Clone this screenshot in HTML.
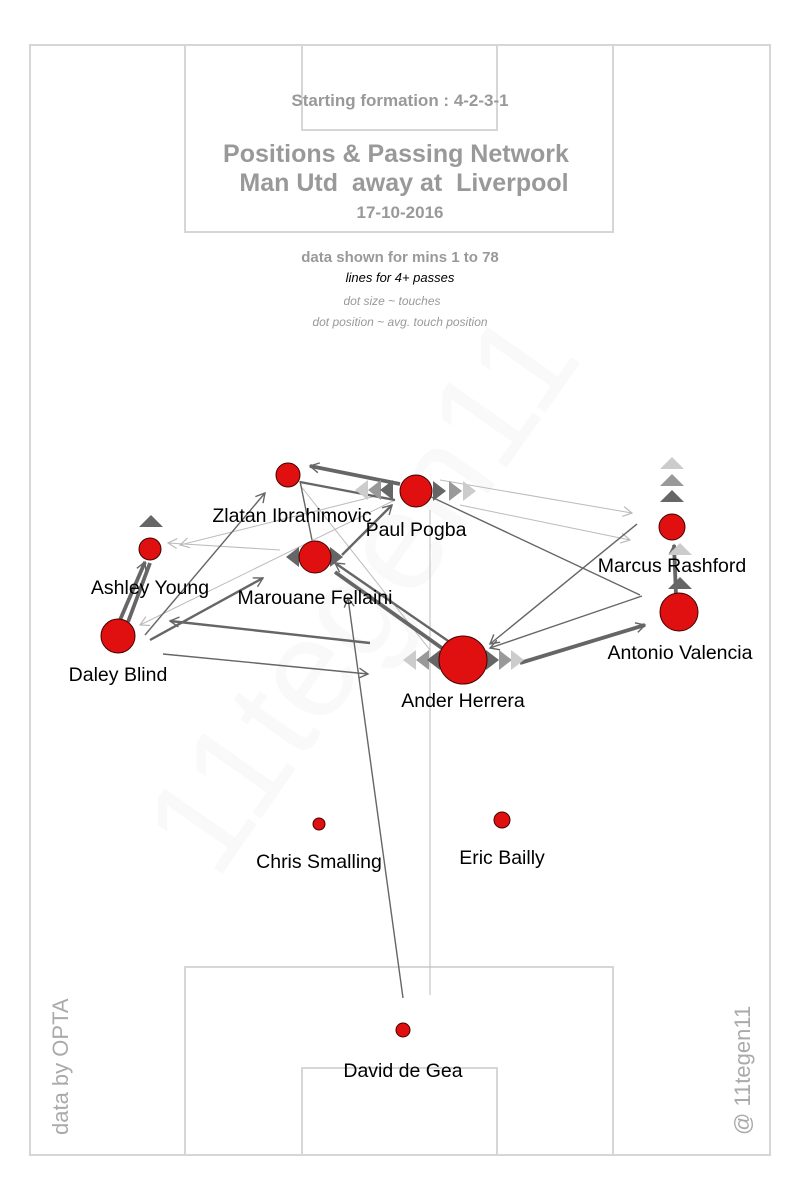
<!DOCTYPE html>
<html><head><meta charset="utf-8"><style>
html,body{margin:0;padding:0;background:#fff;}
svg{display:block;font-family:"Liberation Sans",sans-serif;}
</style></head><body>
<svg width="800" height="1200" viewBox="0 0 800 1200">
<defs>
<marker id="a" markerWidth="12" markerHeight="12" refX="10" refY="6" orient="auto" markerUnits="userSpaceOnUse"><path d="M1,1 L10,6 L1,11" fill="none" stroke="#666" stroke-width="1.4"/></marker>
<marker id="b" markerWidth="12" markerHeight="12" refX="10" refY="6" orient="auto" markerUnits="userSpaceOnUse"><path d="M1,1 L10,6 L1,11" fill="none" stroke="#bbb" stroke-width="1.2"/></marker>
</defs>
<g fill="none" stroke="#d6d6d6" stroke-width="2">
<rect x="30" y="45" width="740" height="1110"/>
<rect x="185" y="45" width="428" height="187"/>
<rect x="302" y="45" width="195" height="85"/>
<rect x="185" y="967" width="428" height="188"/>
<rect x="302" y="1068" width="195" height="87"/>
</g>
<text x="400" y="620" transform="rotate(-55 400 620)" font-size="140" fill="#f9f9f9" text-anchor="middle">11tegen11</text>
<g fill="#999" font-weight="bold" text-anchor="middle" style="white-space:pre">
<text x="400" y="106" font-size="17">Starting formation : 4-2-3-1</text>
<text x="396" y="162" font-size="25">Positions &amp; Passing Network</text>
<text x="404" y="191" font-size="25" xml:space="preserve">Man Utd  away at  Liverpool</text>
<text x="400" y="218" font-size="17">17-10-2016</text>
<text x="400" y="262" font-size="15">data shown for mins 1 to 78</text>
</g>
<text x="400" y="282" font-size="13" font-style="italic" text-anchor="middle" fill="#000">lines for 4+ passes</text>
<text x="392" y="305" font-size="12" font-style="italic" text-anchor="middle" fill="#999">dot size ~ touches</text>
<text x="400" y="326" font-size="12" font-style="italic" text-anchor="middle" fill="#999">dot position ~ avg. touch position</text>
<text x="68" y="1135" font-size="22" fill="#aaa" transform="rotate(-90 68 1135)">data by OPTA</text>
<text x="750" y="1135" font-size="22" fill="#aaa" transform="rotate(-90 750 1135)">@ 11tegen11</text>
<g stroke="#bbb" stroke-width="1" fill="none">
<line x1="430" y1="995" x2="430" y2="510"/>
<line x1="440" y1="480" x2="632" y2="513" marker-end="url(#b)"/>
<line x1="460" y1="505" x2="630" y2="540" marker-end="url(#b)"/>
<line x1="380" y1="495" x2="180" y2="545" marker-end="url(#b)"/>
<line x1="280" y1="550" x2="168" y2="543" marker-end="url(#b)"/>
<line x1="395" y1="500" x2="140" y2="625" marker-end="url(#b)"/>
<line x1="300" y1="485" x2="430" y2="650"/>
</g>
<g stroke="#666" stroke-width="1.4" fill="none">
<line x1="403" y1="998" x2="348" y2="598" marker-end="url(#a)"/>
<line x1="145" y1="635" x2="265" y2="493" marker-end="url(#a)"/>
<line x1="163" y1="654" x2="368" y2="674" marker-end="url(#a)"/>
<line x1="637" y1="524" x2="490" y2="644" marker-end="url(#a)"/>
<line x1="642" y1="596" x2="490" y2="648" marker-end="url(#a)"/>
<line x1="640" y1="595" x2="425" y2="494"/>
<line x1="300" y1="481" x2="312" y2="540"/>
</g>
<g stroke="#666" stroke-width="2.4" fill="none">
<line x1="150" y1="640" x2="263" y2="578" marker-end="url(#a)"/>
<line x1="370" y1="643" x2="170" y2="621" marker-end="url(#a)"/>
<line x1="342" y1="555" x2="392" y2="505" marker-end="url(#a)"/>
<line x1="300" y1="482" x2="395" y2="500"/>
<line x1="454" y1="645" x2="335" y2="563" marker-end="url(#a)"/>
</g>
<g stroke="#666" stroke-width="3.8" fill="none">
<line x1="400" y1="484" x2="310" y2="466" marker-end="url(#a)"/>
<line x1="520" y1="663" x2="645" y2="625" marker-end="url(#a)"/>
<line x1="453" y1="656" x2="335" y2="572"/>
<line x1="120" y1="620" x2="145" y2="562" marker-end="url(#a)"/>
<line x1="128" y1="622" x2="150" y2="563"/>
<line x1="676" y1="595" x2="674" y2="545" marker-end="url(#a)"/>
</g>
<g>
<polygon points="355,490 368,480 368,500" fill="#ccc"/>
<polygon points="368,490 381,480 381,500" fill="#999"/>
<polygon points="380,490 393,480 393,500" fill="#666"/>
<polygon points="446,491 433,481 433,501" fill="#666"/>
<polygon points="462,491 449,481 449,501" fill="#999"/>
<polygon points="476,491 463,481 463,501" fill="#ccc"/>
<polygon points="286,557 299,547 299,567" fill="#666"/>
<polygon points="343,557 330,547 330,567" fill="#666"/>
<polygon points="403,660 416,650 416,670" fill="#ccc"/>
<polygon points="416,660 429,650 429,670" fill="#999"/>
<polygon points="427,660 440,650 440,670" fill="#666"/>
<polygon points="499,660 486,650 486,670" fill="#666"/>
<polygon points="512,660 499,650 499,670" fill="#999"/>
<polygon points="524,660 511,650 511,670" fill="#ccc"/>
<polygon points="151,515 139,527 163,527" fill="#666"/>
<polygon points="672,457 660,469 684,469" fill="#ccc"/>
<polygon points="672,474 660,486 684,486" fill="#999"/>
<polygon points="672,490 660,502 684,502" fill="#666"/>
<polygon points="680,543 668,555 692,555" fill="#ccc"/>
<polygon points="680,577 668,589 692,589" fill="#666"/>
</g>
<g fill="#e01010" stroke="#400" stroke-width="1">
<circle cx="288" cy="475" r="12"/>
<circle cx="416" cy="491" r="16"/>
<circle cx="150" cy="549" r="11"/>
<circle cx="315" cy="557" r="16"/>
<circle cx="672" cy="527" r="13"/>
<circle cx="679" cy="612" r="19"/>
<circle cx="118" cy="636" r="17"/>
<circle cx="463" cy="660" r="24"/>
<circle cx="319" cy="824" r="6"/>
<circle cx="502" cy="820" r="8"/>
<circle cx="403" cy="1030" r="7"/>
</g>
<g font-size="19.5" fill="#000" text-anchor="middle">
<text x="292" y="522">Zlatan Ibrahimovic</text>
<text x="416" y="536">Paul Pogba</text>
<text x="150" y="594">Ashley Young</text>
<text x="315" y="604">Marouane Fellaini</text>
<text x="672" y="572">Marcus Rashford</text>
<text x="680" y="659">Antonio Valencia</text>
<text x="118" y="681">Daley Blind</text>
<text x="463" y="707">Ander Herrera</text>
<text x="319" y="868">Chris Smalling</text>
<text x="502" y="864">Eric Bailly</text>
<text x="403" y="1077">David de Gea</text>
</g>
</svg>
</body></html>
